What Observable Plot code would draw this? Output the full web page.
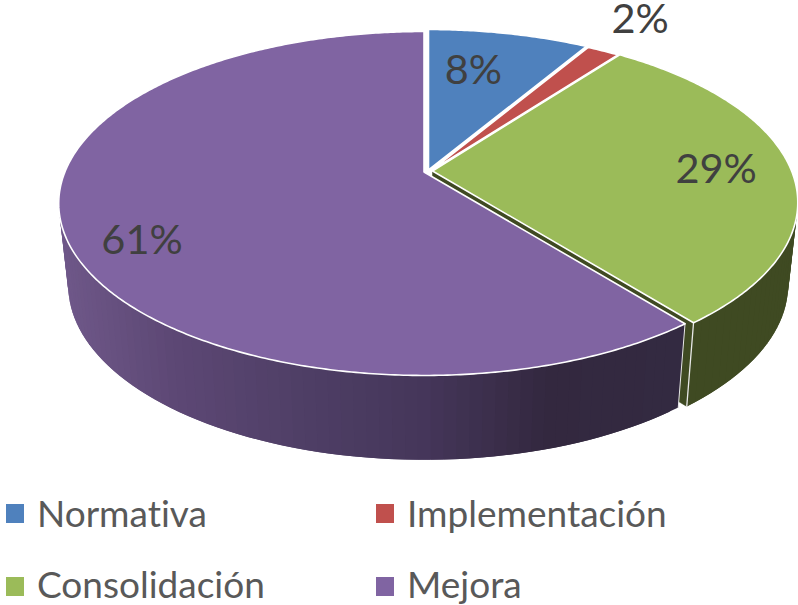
<!DOCTYPE html>
<html><head><meta charset="utf-8">
<script src="https://cdn.jsdelivr.net/npm/d3@7"></script>
<script src="https://cdn.jsdelivr.net/npm/@observablehq/plot@0.6"></script>
<style>
html,body{margin:0;padding:0;background:#fff;overflow:hidden}
#page{position:relative;width:798px;height:605px;font-family:Lato,"Open Sans",sans-serif;font-variant-ligatures:none}
#page svg{display:block;position:absolute;left:0;top:0;background:transparent}
.sw{position:absolute;width:18px;height:18.5px}
.lb{position:absolute;font-size:37px;line-height:32px;color:#595959;white-space:nowrap}
</style></head><body><div id="page"></div>
<script>
const categories = ["Normativa","Implementación","Consolidación","Mejora"];
const shares = [8.49,1.71,29.1,60.7];
const colors = ["#4F81BD","#C0504D","#9BBB59","#8064A2"];
const wallRamps = [["#3a5f8c"],["#8f3b39"],["#3F4A22","#3F4A22"],["#6f5889","#5c4774","#4f3f66","#45365a","#33283f","#332a41"]];
const slicePull = [[1,-2],[3,-1],[5,-1],[-3.5,0]];   // px
const labelReach = [0.7,1.15,0.8,0.8];
const labelNudge = [[-14,1],[15,-16],[-3,1],[3,23]];

const W=798,H=470,ox=427,oy=171.5,ax=359.1,by=166.2,k=-0.1831;
const ux=p=>p/ax, uy=p=>p/by;
const TAU=Math.PI*2;
const total=d3.sum(shares);
const cum=d3.cumsum(shares);
const slices=categories.map((name,i)=>({name,i,t0:(i?cum[i-1]:0)/total*TAU,t1:cum[i]/total*TAU,pull:[ux(slicePull[i][0]),uy(slicePull[i][1])]}));
function rimTop(t,r,s){const u=r*Math.sin(t),v=-r*Math.cos(t),w=1+k*v;return [u/w+s.pull[0],v/w+s.pull[1]];}
const cy=uy(31.5),cb=uy(113.5),sx=0.974,sy=1.014;
function rimLow(t,r,s){const u=r*Math.sin(t),v=-r*Math.cos(t),w=1+k*v;return [u/w*sx+s.pull[0],cb+(v/w-cy)*sy+s.pull[1]];}

// Walls: only the part of the rim that faces the viewer. Each band runs to the
// far end of the wall, so a later band paints over it and no seam shows.
const front0=TAU*0.27, front1=TAU*0.735;
const wallPts=[];
let sid=0;
for(const s of slices){
  const a=Math.max(s.t0,front0), b=Math.min(s.t1,front1);
  if(b<=a) continue;
  const ramp=d3.scaleLinear().domain(d3.quantize(d3.interpolate(ux(69-ox),ux(680-ox)),wallRamps[s.i].length)).range(wallRamps[s.i]).clamp(true);
  const n=Math.ceil((b-a)/0.03);
  // run from the right end (smallest t) to the left end: each band covers the rest leftward
  for(let j=0;j<n;j++){
    const t0=a+(b-a)*j/n, t1=a+(b-a)*(j+1)/n;
    const end=Math.min(b,t1+(b-a)/n);
    const pts=[rimTop(t0,1,s),rimTop(end,1,s),rimLow(end,1,s),rimLow(t0,1,s)];
    const mid=rimLow((t0+t1)/2,1,s);
    const fill=ramp(mid[0]);
    sid++;
    for(const q of [...pts,pts[0]]) wallPts.push({x:q[0],y:q[1],id:sid,fill,order:s.i});
  }
}
const wall=i=>wallPts.filter(d=>d.order===i);
const sector=s=>{const n=Math.ceil((s.t1-s.t0)/0.01),pts=[rimTop(0,0,s)];for(let j=0;j<=n;j++)pts.push(rimTop(s.t0+(s.t1-s.t0)*j/n,1,s));pts.push(rimTop(0,0,s));return pts.map(p=>({x:p[0],y:p[1],fill:colors[s.i]}));};
const green=slices[2],purple=slices[3];
const cut=[rimTop(0,0,green),rimTop(green.t1,1,green),rimLow(green.t1,1,green),rimLow(0,0,green),rimTop(0,0,green)].map(p=>({x:p[0],y:p[1]}));
const purpleEdge=[rimTop(purple.t0,1,purple),rimLow(purple.t0,1,purple)].map(p=>({x:p[0],y:p[1]}));
const greenEdge=[rimTop(green.t1,1,green),rimLow(green.t1,1,green)].map(p=>({x:p[0],y:p[1]}));
const poly=(data,o={})=>Plot.line(data,{x:"x",y:"y",...o});
const strips=i=>poly(wall(i).slice().reverse(),{z:"id",fill:"fill",stroke:"none"});

const labels=slices.map(s=>{const p=rimTop((s.t0+s.t1)/2,labelReach[s.i],s);return {x:p[0],y:p[1],text:Math.round(shares[s.i])+"%",i:s.i};});

const chart=Plot.plot({
  width:W,height:H,margin:0,
  style:{background:"transparent"},
  x:{domain:[ux(-ox),ux(W-ox)],range:[0,W],axis:null},
  y:{domain:[uy(-oy),uy(H-oy)],range:[0,H],axis:null},
  color:{type:"identity"},
  marks:[
    strips(2),
    poly(cut,{fill:"#3F4A22",stroke:"#3F4A22",strokeWidth:0.5}),
    poly(greenEdge,{stroke:"#e8e8e8",strokeWidth:1.3}),
    strips(3),
    poly(purpleEdge,{stroke:"#e8e8e8",strokeWidth:1}),
    ...slices.map(s=>poly(sector(s),{fill:"fill",stroke:"#ffffff",strokeWidth:1.6,strokeLinejoin:"round"})),
    ...labels.map(d=>Plot.text([d],{x:"x",y:"y",text:"text",dx:labelNudge[d.i][0],dy:labelNudge[d.i][1],fill:"#404040",fontSize:41.5,fontFamily:"Lato, 'Open Sans', sans-serif"}))
  ]
});
const page=document.getElementById("page");
page.appendChild(chart);
const legendPos=[[6,504,37,-7],[375.5,504,407,-7],[6,577,37,-9],[375.5,577,407,-9]];
categories.forEach((c,i)=>{
  const [sx0,sy0,tx,ty]=legendPos[i];
  const sw=document.createElement("div");sw.className="sw";sw.style.cssText=`left:${sx0}px;top:${sy0}px;background:${colors[i]}`;page.appendChild(sw);
  const lb=document.createElement("div");lb.className="lb";lb.textContent=c;lb.style.left=tx+"px";lb.style.top=(sy0+ty)+"px";page.appendChild(lb);
});
</script></body></html>
